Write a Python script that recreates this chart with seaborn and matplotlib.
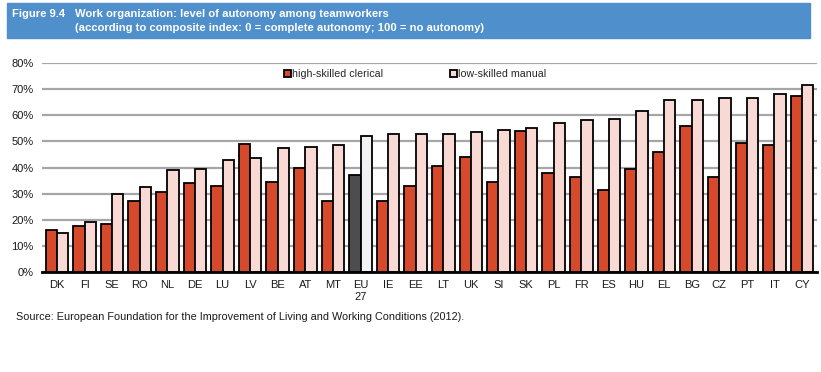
import pandas as pd
import seaborn as sns
import matplotlib.pyplot as plt
from matplotlib.patches import Rectangle
from matplotlib.ticker import PercentFormatter

# country codes in chart order
countries = ['DK', 'FI', 'SE', 'RO', 'NL', 'DE', 'LU', 'LV', 'BE', 'AT', 'MT', 'EU\n27',
             'IE', 'EE', 'LT', 'UK', 'SI', 'SK', 'PL', 'FR', 'ES', 'HU', 'EL', 'BG',
             'CZ', 'PT', 'IT', 'CY']
high_skilled = [16, 17.5, 18.5, 27, 30.5, 34, 33, 49, 34.5, 40, 27, 37,
                27, 33, 40.5, 44, 34.5, 54, 38, 36.5, 31.5, 39.5, 46, 56,
                36.5, 49.5, 48.5, 67.5]
low_skilled = [15, 19, 30, 32.5, 39, 39.5, 43, 43.5, 47.5, 48, 48.5, 52,
               53, 53, 53, 53.5, 54.5, 55, 57, 58, 58.5, 61.5, 66, 66,
               66.5, 66.5, 68, 71.5]
series = ['high-skilled clerical', 'low-skilled manual']

df = pd.DataFrame({'country': countries * 2,
                   'group': [series[0]] * len(countries) + [series[1]] * len(countries),
                   'value': high_skilled + low_skilled})

sns.set_style('white')
plt.rcParams['font.family'] = ['Liberation Sans', 'DejaVu Sans']

fig = plt.figure(figsize=(8.21, 3.72), dpi=100)
ax = fig.add_axes([42 / 821, 1 - 272 / 372, 775 / 821, 209 / 372])

sns.barplot(data=df, x='country', y='value', hue='group', order=countries,
            hue_order=series, palette=['#D64A2B', '#F8D9D3'], width=0.82,
            edgecolor='black', linewidth=1.3, saturation=1, ax=ax, zorder=3)

# EU27 average in grey tones
eu = countries.index('EU\n27')
ax.containers[0][eu].set_facecolor('#4D4D4D')
ax.containers[1][eu].set_facecolor('#F2F2F5')

ax.set_ylim(0, 80)
ax.set_xlim(-0.54, 27.54)
ax.set_yticks(range(0, 81, 10))
ax.yaxis.set_major_formatter(PercentFormatter(decimals=0))
ax.grid(axis='y', color='#A6A6A6', linewidth=1.6, zorder=0)
ax.set_xlabel('')
ax.set_ylabel('')
ax.tick_params(length=0, labelsize=8, colors='#1A1A1A')
ax.tick_params(axis='x', pad=6)
ax.tick_params(axis='y', pad=6)
for s in ['top', 'right', 'left']:
    ax.spines[s].set_visible(False)
ax.spines['bottom'].set_color('black')
ax.spines['bottom'].set_linewidth(2)
ax.spines['bottom'].set_zorder(4)

leg = ax.legend(loc='upper left', bbox_to_anchor=(0.300, 1.015), ncol=2, frameon=False,
                fontsize=7.7, handlelength=0.6, handleheight=0.6, handletextpad=0.1,
                columnspacing=6.3)

# header band
fig.patches.append(Rectangle((7 / 821, 1 - 38 / 372), 803 / 821, 35 / 372,
                             transform=fig.transFigure, color='#4F8FCB', zorder=0))
fig.text(12 / 821, 1 - 14 / 372, 'Figure 9.4', color='white', fontsize=8.1,
         fontweight='bold', va='center')
fig.text(75 / 821, 1 - 14 / 372, 'Work organization: level of autonomy among teamworkers',
         color='white', fontsize=8.1, fontweight='bold', va='center')
fig.text(75 / 821, 1 - 28 / 372,
         '(according to composite index: 0 = complete autonomy; 100 = no autonomy)',
         color='white', fontsize=8.1, fontweight='bold', va='center')

fig.text(16 / 821, 1 - 317 / 372,
         'Source: European Foundation for the Improvement of Living and Working Conditions (2012).',
         fontsize=7.8, color='#1A1A1A', va='center')

plt.savefig('out.png', dpi=100)
